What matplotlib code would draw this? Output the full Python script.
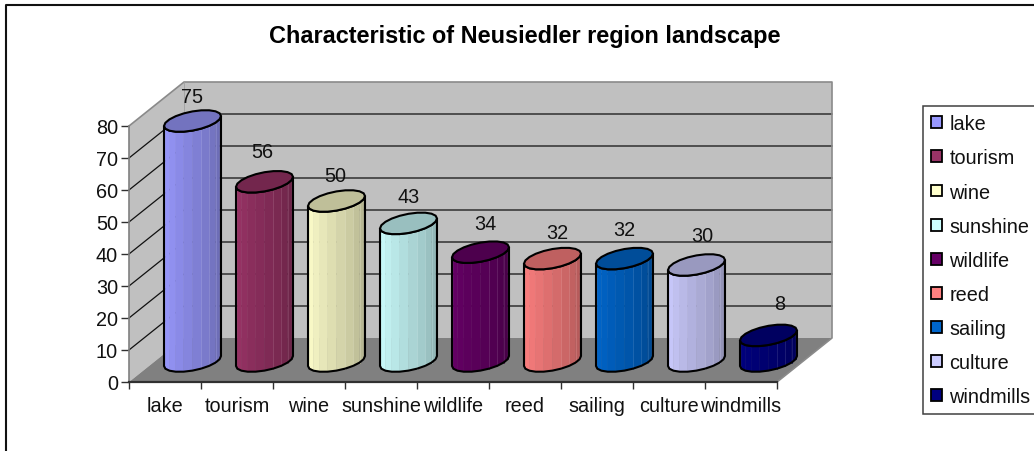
import numpy as np
import matplotlib
matplotlib.use("Agg")
import matplotlib.pyplot as plt
from matplotlib.lines import Line2D
from matplotlib.patches import Patch

categories = ["lake", "tourism", "wine", "sunshine", "wildlife", "reed", "sailing", "culture", "windmills"]
values = [75, 56, 50, 43, 34, 32, 32, 30, 8]
colors = ["#9999FF", "#993366", "#FFFFCC", "#CCFFFF", "#660066", "#FF8080", "#0066CC", "#CCCCFF", "#000080"]
y_ticks = [0, 10, 20, 30, 40, 50, 60, 70, 80]
title = "Characteristic of Neusiedler region landscape"

# hand-placed label nudges, in pixels
label_dx = [0, -2, -1, 0, 5, 5, 0, 6, 11]
label_dy = [24, 30, 26, 27, 29, 26, 29, 30, 32]

W, H = 1034, 452
plt.rcParams["font.family"] = ["Liberation Sans", "DejaVu Sans"]
FS = 14.3
fig = plt.figure(figsize=(W / 100, H / 100), dpi=100, facecolor="white")

L, R, B, T = 129, 777, 383, 127
ax = fig.add_axes([L / W, 1 - B / H, (R - L) / W, (B - T) / H])
ax.set_xlim(0, len(categories))
ax.set_ylim(0, 80)
ax.patch.set_visible(False)

px_x = (R - L) / len(categories)
px_y = (B - T) / 80
DX = 55 / px_x   # depth offset in data units
DY = 44 / px_y

n = len(categories)
# walls and floor
ax.fill([0, DX, DX, 0], [0, DY, 80 + DY, 80], color="#C0C0C0", zorder=1, clip_on=False, lw=0)
ax.fill([DX, n + DX, n + DX, DX], [DY, DY, 80 + DY, 80 + DY], color="#C0C0C0", zorder=1, clip_on=False, lw=0)
ax.fill([0, n, n + DX, DX], [0, 0, DY, DY], color="#808080", zorder=1.2, clip_on=False, lw=0)

# gridlines
for v in y_ticks[1:-1]:
    ax.plot([0, DX, n + DX], [v, v + DY, v + DY], color="#101010", lw=0.9, zorder=1.5, clip_on=False)
# wall edges
ax.plot([0, DX, n + DX, n + DX, n], [80, 80 + DY, 80 + DY, DY, 0], color="#8A8A8A", lw=1.2, zorder=1.6, clip_on=False)
ax.plot([DX, DX], [80 + DY, DY], color="#A0A0A0", lw=0.6, zorder=1.6, clip_on=False)

# cylinders
def shade(c, f):
    rgb = np.array(matplotlib.colors.to_rgb(c))
    return tuple(rgb * f)

def lighten(c, f):
    rgb = np.array(c)
    return tuple(rgb + (1 - rgb) * f)

RX = 28.5 / px_x
SK = 5.0 / px_y
RY = 9.6 / px_y
N = 10
ts = np.linspace(0, 2 * np.pi, 2 * N + 1)

for i, (v, c) in enumerate(zip(values, colors)):
    cx = i + 0.5 + DX / 2
    cy = DY / 2 - 1 / px_y
    ex = cx + RX * np.cos(ts)
    ey = SK * np.cos(ts) + RY * np.sin(ts)
    front = np.arange(N, 2 * N + 1)  # t from pi to 2 pi
    z = 3 + i
    for k, (a, b) in enumerate(zip(front[:-1], front[1:])):
        f = 1.0 - 0.32 * (k / (N - 1)) ** 1.1
        col = shade(c, f)
        ax.fill([ex[a], ex[b], ex[b], ex[a]],
                [cy + ey[a], cy + ey[b], cy + v + ey[b], cy + v + ey[a]],
                facecolor=col, edgecolor=col, lw=0.3, zorder=z, clip_on=False)
        if k >= N // 2 and k < N - 1:
            ax.plot([ex[b], ex[b]], [cy + ey[b], cy + v + ey[b]],
                    color=lighten(col, 0.12), lw=0.6, zorder=z + 0.1, clip_on=False)
    # silhouette
    ox = np.r_[ex[front], ex[front[::-1]]]
    oy = np.r_[cy + ey[front], cy + v + ey[front[::-1]]]
    ax.fill(ox, oy, facecolor="none", edgecolor="black", lw=1.5, zorder=z + 0.2, clip_on=False)
    ax.fill(ex, cy + v + ey, facecolor=shade(c, 0.75), edgecolor="black", lw=1.5, zorder=z + 0.3, clip_on=False)
    ax.annotate(str(v), (cx, cy + v), xytext=(label_dx[i] * 0.72, label_dy[i] * 0.72),
                textcoords="offset points", ha="center", va="center",
                fontsize=FS, color="#111111", zorder=20, annotation_clip=False)

# axes
for s in ("top", "right"):
    ax.spines[s].set_visible(False)
ax.spines["left"].set_color("#808080")
ax.spines["left"].set_linewidth(1.2)
ax.spines["bottom"].set_color("#303030")
ax.spines["bottom"].set_linewidth(1.6)
ax.set_yticks(y_ticks)
ax.set_xticks(np.arange(n + 1))
ax.set_xticklabels([])
ax.set_xticks(np.arange(n) + 0.5, minor=True)
ax.set_xticklabels(categories, minor=True)
ax.tick_params(axis="x", which="minor", length=0, pad=10, labelsize=FS, labelcolor="#111111")
ax.tick_params(axis="x", which="major", length=5, width=1, color="#303030")
ax.tick_params(axis="y", length=6, width=1, color="#303030", pad=2, labelsize=FS, labelcolor="#111111")

# title
fig.text(525 / W, 1 - 37 / H, title, ha="center", va="center", fontsize=16.9, fontweight="bold", color="black")

# legend
handles = [Patch(facecolor=c, edgecolor="black", lw=1.3) for c in colors]
leg = fig.legend(handles, categories, loc="upper left",
                 bbox_to_anchor=(923 / W, 1 - 107 / H), bbox_transform=fig.transFigure,
                 fontsize=FS, frameon=True, fancybox=False, framealpha=1,
                 edgecolor="#404040", labelspacing=0.76, handlelength=0.55, handleheight=0.55,
                 handletextpad=0.36, borderpad=0.42, borderaxespad=0, labelcolor="#111111")
leg.get_frame().set_linewidth(1.1)

# chart frame
fig.add_artist(Line2D([6 / W, 6 / W, 1], [0, 1 - 6 / H, 1 - 6 / H], color="#111111", lw=1.5,
                      transform=fig.transFigure))

fig.savefig("out.png", dpi=100, facecolor="white")
